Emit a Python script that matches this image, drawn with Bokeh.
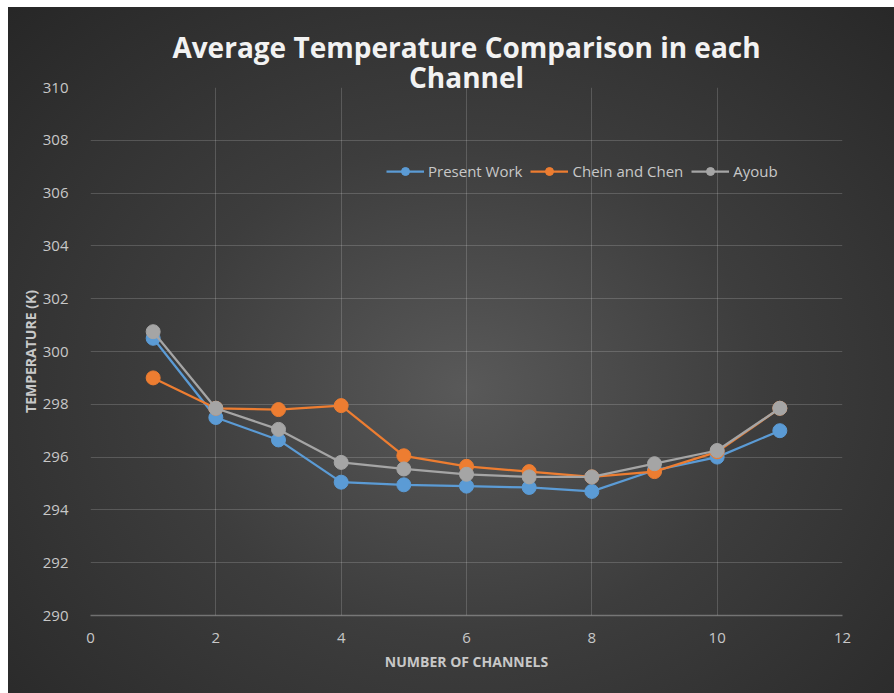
from bokeh.plotting import figure
from bokeh.models import Legend, LegendItem, FixedTicker, Range1d, Title
from bokeh.embed import file_html
from bokeh.resources import INLINE

# Average channel temperature (K) for each channel number
channels = [1, 2, 3, 4, 5, 6, 7, 8, 9, 10, 11]
present_work = [300.5, 297.5, 296.65, 295.05, 294.95, 294.9, 294.85, 294.7, 295.5, 296.0, 297.0]
chein_chen = [299.0, 297.85, 297.8, 297.95, 296.05, 295.65, 295.45, 295.25, 295.45, 296.2, 297.85]
ayoub = [300.75, 297.85, 297.05, 295.8, 295.55, 295.35, 295.25, 295.25, 295.75, 296.25, 297.85]

x_ticks = [0, 2, 4, 6, 8, 10, 12]
y_ticks = [290, 292, 294, 296, 298, 300, 302, 304, 306, 308, 310]

series = [
    ("Present Work", present_work, "#5B9BD5"),
    ("Chein and Chen", chein_chen, "#ED7D31"),
    ("Ayoub", ayoub, "#A5A5A5"),
]

FONT = "Open Sans"
TEXT_GREY = "#c8c8c8"

p = figure(
    width=894, height=693, title=None,
    x_range=Range1d(0, 12), y_range=Range1d(290, 310),
    output_backend="svg", toolbar_location=None,
    min_border_left=90, min_border_right=52,
    min_border_top=87, min_border_bottom=78,
)

p.border_fill_color = None
p.background_fill_color = None
p.outline_line_color = None
p.styles = {
    "background": (
        "linear-gradient(#ffffff, #ffffff) left top / 100% 7px no-repeat, "
        "linear-gradient(#ffffff, #ffffff) left top / 8px 100% no-repeat, "
        "radial-gradient(ellipse farthest-corner at 52% 56%, #595959 0%, #3d3d3d 45%, #262626 100%)"
    )
}

# two-line chart title, one centred Title per line (lower line first)
for line, standoff in (("Channel", -17), ("Average Temperature Comparison in each", -3)):
    p.add_layout(Title(
        text=line, align="center", text_font=FONT, text_font_size="28px",
        text_font_style="bold", text_color="#f2f2f2",
        standoff=standoff,
    ), "above")

# axes
p.xaxis.ticker = FixedTicker(ticks=x_ticks)
p.yaxis.ticker = FixedTicker(ticks=y_ticks)
for ax in (p.xaxis[0], p.yaxis[0]):
    ax.major_tick_line_color = None
    ax.minor_tick_line_color = None
    ax.major_label_text_font = FONT
    ax.major_label_text_font_size = "15px"
    ax.major_label_text_color = TEXT_GREY
    ax.axis_label_text_font = FONT
    ax.axis_label_text_font_style = "bold"
    ax.axis_label_text_font_size = "14px"
    ax.axis_label_text_color = TEXT_GREY
p.yaxis.axis_line_color = None
p.xaxis.axis_line_color = "#ffffff"
p.xaxis.axis_line_alpha = 0.3
p.xaxis.axis_line_width = 1.5
p.yaxis.major_label_standoff = 16
p.xaxis.major_label_standoff = 11

p.xaxis.axis_label = "NUMBER OF CHANNELS"
p.xaxis.axis_label_standoff = 6
p.yaxis.axis_label = "TEMPERATURE (K)"
p.yaxis.axis_label_standoff = 0

# grid
p.grid.grid_line_color = "#ffffff"
p.grid.grid_line_alpha = 0.17
p.grid.grid_line_width = 1

# series
items = []
for name, vals, color in series:
    ln = p.line(channels, vals, line_color=color, line_width=2.25)
    sc = p.scatter(channels, vals, size=14, fill_color=color, line_color=color)
    items.append(LegendItem(label=name, renderers=[ln, sc]))

legend = Legend(
    items=items, orientation="horizontal", location=(296, 434),
    background_fill_color=None, border_line_color=None,
    padding=0, margin=0, spacing=8, label_standoff=4,
    glyph_width=38, glyph_height=20, label_height=20,
    label_text_font=FONT, label_text_font_size="15px",
    label_text_color=TEXT_GREY,
)
p.add_layout(legend)

open("out.html", "w").write(file_html(p, INLINE))
